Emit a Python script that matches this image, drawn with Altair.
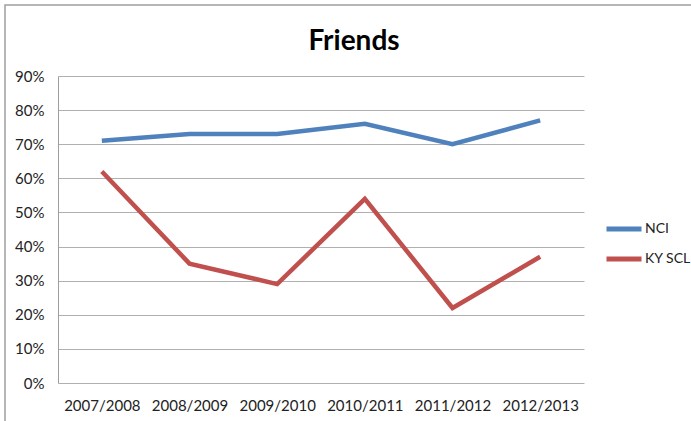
import altair as alt
import pandas as pd

years = ["2007/2008", "2008/2009", "2009/2010", "2010/2011", "2011/2012", "2012/2013"]
nci = [0.71, 0.73, 0.73, 0.76, 0.70, 0.77]
ky_scl = [0.62, 0.35, 0.29, 0.54, 0.22, 0.37]
series_names = ["NCI", "KY SCL"]
series_colors = ["#4F81BD", "#C0504D"]
title_text = ["Friends"]

rows = []
for name, vals in zip(series_names, [nci, ky_scl]):
    for y, v in zip(years, vals):
        rows.append({"year": y, "series": name, "value": v})
df = pd.DataFrame(rows)

FONT = "Lato"

border = alt.Chart(pd.DataFrame({"a": [0]})).mark_rect(
    fill=None, stroke="#9e9e9e", strokeWidth=1.5
).encode(
    x=alt.value(-53), x2=alt.value(700), y=alt.value(-71), y2=alt.value(500)
)

title = alt.Chart(pd.DataFrame({"t": title_text})).mark_text(
    fontSize=28, font=FONT, fontWeight="bold", color="#000000",
    align="center", baseline="alphabetic"
).encode(text="t:N", x=alt.value(296), y=alt.value(-26))

lines = alt.Chart(df).mark_line(strokeWidth=4.5).encode(
    x=alt.X("year:N", sort=years, scale=alt.Scale(type="point", padding=0.5),
            axis=alt.Axis(title=None, labelAngle=0, domain=False, ticks=False,
                          grid=False, labelPadding=15, labelFontSize=15,
                          labelColor="#222222", labelFont=FONT)),
    y=alt.Y("value:Q", scale=alt.Scale(domain=[0, 0.9], nice=False),
            axis=alt.Axis(title=None, format=".0%", values=[i / 10 for i in range(10)],
                          domain=True, domainColor="#9e9e9e", ticks=False,
                          grid=True, gridColor="#b0b0b0", labelPadding=14,
                          labelFontSize=15, labelColor="#222222", labelFont=FONT)),
    color=alt.Color("series:N", scale=alt.Scale(domain=series_names, range=series_colors),
                    sort=series_names,
                    legend=alt.Legend(title=None, orient="none", legendX=546, legendY=133,
                                      symbolType="stroke", symbolSize=1225,
                                      symbolStrokeWidth=5, labelFontSize=14,
                                      labelFont=FONT, labelColor="#222222",
                                      labelOffset=1, rowPadding=-5, padding=0)),
)

chart = alt.layer(border, title, lines).properties(
    width=526, height=307,
    autosize=alt.AutoSizeParams(type="none"),
    padding={"left": 58, "top": 76, "right": 107, "bottom": 38},
).configure_view(stroke=None)

chart.save("out.html", embed_options={"renderer": "svg", "actions": False})
